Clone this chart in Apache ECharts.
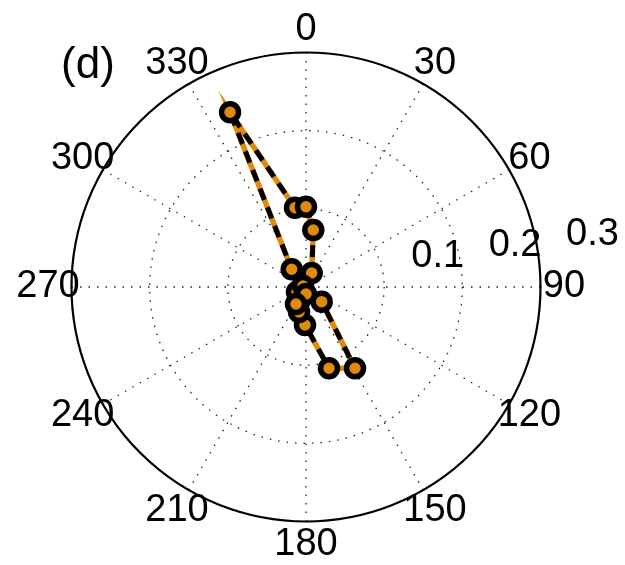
<!DOCTYPE html>
<html>
<head>
<meta charset="utf-8">
<script src="https://cdn.jsdelivr.net/npm/echarts@6/dist/echarts.min.js"></script>
<style>
html,body{margin:0;padding:0;background:#fff;}
#chart{width:625px;height:565px;}
</style>
</head>
<body>
<div id="chart"></div>
<script>
// Data (radius, angle in degrees clockwise from north)
var radii  = [0.0183, 0.0132, 0.0291, 0.2437, 0.1024, 0.1027, 0.0735, 0.0193, 0.0040, 0.0090, 0.0275, 0.1214, 0.1081, 0.0486, 0.0332, 0.0252];
var angles = [204.8, 240.9, 321.1, 336.5, 352.1, 0.0, 7.3, 22.2, 288.4, 180.0, 133.1, 148.9, 164.2, 181.5, 195.6, 210.5];
var angleTicks = [0, 30, 60, 90, 120, 150, 180, 210, 240, 270, 300, 330];
var radiusTicks = [0.1, 0.2, 0.3];
var panelLabel = '(d)';

var FONT = 'Liberation Sans, Arial, Helvetica, sans-serif';
var ORANGE = '#E08A0C';

var pts = radii.map(function (r, i) { return [r, angles[i]]; });

var chart = echarts.init(document.getElementById('chart'), null, {renderer: 'canvas'});
var dotted = {color: '#222', width: 1.3, type: [1.5, 7]};

chart.setOption({
  backgroundColor: '#fff',
  animation: false,
  polar: {center: [306, 287], radius: 234.5},
  angleAxis: {
    type: 'value', min: 0, max: 360, interval: 30,
    startAngle: 90, clockwise: true,
    axisLine: {show: true, lineStyle: {color: '#000', width: 2.2}},
    axisTick: {show: false},
    axisLabel: {show: false},
    splitLine: {show: true, lineStyle: dotted}
  },
  radiusAxis: {
    type: 'value', min: 0, max: 0.3, interval: 0.1,
    axisLine: {show: false}, axisTick: {show: false}, axisLabel: {show: false},
    splitLine: {show: true, lineStyle: dotted}
  },
  series: [
    {
      type: 'line', coordinateSystem: 'polar', data: pts, symbol: 'none',
      lineStyle: {color: ORANGE, width: 5.5, join: 'miter', miterLimit: 10},
      z: 2
    },
    {
      type: 'line', coordinateSystem: 'polar', data: pts, symbol: 'none',
      lineStyle: {color: '#000', width: 5, type: [12, 8], dashOffset: 13.5, join: 'miter', miterLimit: 10},
      z: 3
    },
    {
      type: 'scatter', coordinateSystem: 'polar', data: pts,
      symbol: 'circle', symbolSize: 17,
      itemStyle: {color: ORANGE, borderColor: '#000', borderWidth: 5.5, opacity: 1},
      z: 4
    }
  ]
});

var g = [];
angleTicks.forEach(function (a) {
  var p = chart.convertToPixel({seriesIndex: 0}, [0.33, a]);
  g.push({type: 'text', x: p[0], y: p[1], z: 10,
    style: {text: String(a), font: '38px ' + FONT, fill: '#000', align: 'center', verticalAlign: 'middle'}});
});
radiusTicks.forEach(function (v) {
  var p = chart.convertToPixel({seriesIndex: 0}, [v + 0.005, 82]);
  g.push({type: 'text', x: p[0] + 24, y: p[1], z: 10,
    style: {text: String(v), font: '38px ' + FONT, fill: '#000', align: 'left', verticalAlign: 'bottom'}});
});
g.push({type: 'text', x: 88, y: 66, z: 10,
  style: {text: panelLabel, font: '44px ' + FONT, fill: '#000', align: 'center', verticalAlign: 'middle'}});
chart.setOption({graphic: g});
</script>
</body>
</html>
